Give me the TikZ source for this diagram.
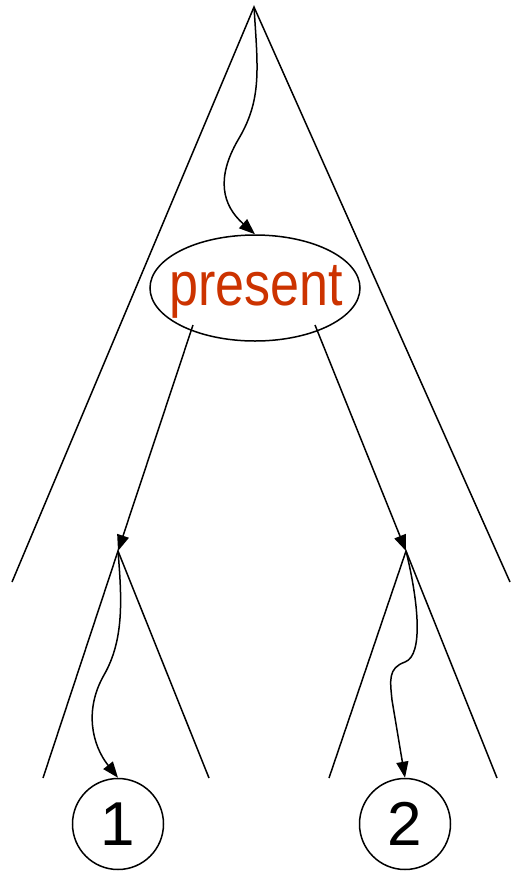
\documentclass[tikz,border=0pt]{standalone}
\usepackage{fontspec}
\setmainfont{Liberation Sans}
\usetikzlibrary{arrows.meta,shapes.geometric}
\definecolor{tensered}{RGB}{204,51,0}
\tikzset{
  leg/.style={line width=1.5pt},
  move/.style={line width=1.5pt,-{Triangle[length=16pt,width=12pt]}},
  leaf/.style={circle,draw,line width=1.5pt,minimum size=91pt,inner sep=0pt,font=\fontsize{62}{62}\selectfont}
}
\begin{document}
\begin{tikzpicture}[x=1pt,y=-1pt]
  \useasboundingbox (0,0) rectangle (511,871);
  % big tree
  \coordinate (top) at (254,7);
  \coordinate (topL) at (12,582);
  \coordinate (topR) at (510,582);
  \draw[leg] (topL) -- (top) -- (topR);
  \node[ellipse,draw,line width=1.5pt,minimum width=210pt,minimum height=106pt,inner sep=0pt] (tense) at (255,288) {};
  \node[anchor=base,text=tensered,font=\fontsize{62}{62}\selectfont] (tenseword) at (256,305) {\scalebox{0.84}[1]{present}};
  \draw[move] (top) .. controls (258,70) and (262,100) .. (238,140)
              .. controls (216,178) and (222,205) .. (tense.north);
  % two subtrees
  \coordinate (subL) at (118,551);
  \coordinate (subR) at (406,551);
  \draw[leg] (43,778) -- (subL) -- (209,778);
  \draw[leg] (329,778) -- (subR) -- (497,778);
  \coordinate (fromL) at (193,325);
  \coordinate (fromR) at (315,325);
  \draw[move] (fromL) -- (subL);
  \draw[move] (fromR) -- (subR);
  \node[leaf] (one) at (118,824) {1};
  \node[leaf] (two) at (405,824) {2};
  % wiggly moves into the leaves
  \draw[move] (subL) .. controls (122,600) and (124,640) .. (104,675)
              .. controls (84,710) and (92,745) .. (one.north);
  \draw[move] (subR) .. controls (418,600) and (424,655) .. (405,662)
              .. controls (388,668) and (390,680) .. (392,700) -- (two.north);
\end{tikzpicture}
\end{document}
